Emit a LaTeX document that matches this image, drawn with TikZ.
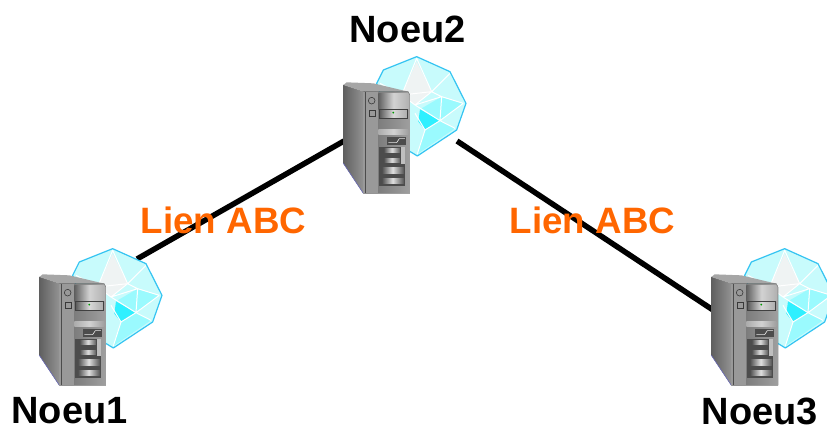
\documentclass[tikz,border=0pt]{standalone}
\usepackage{fontspec}
\setmainfont{Liberation Sans}
\definecolor{lienorange}{HTML}{FF6600}
\definecolor{gembase}{HTML}{C8FBFC}
\definecolor{gemmid}{HTML}{9AFAFE}
\definecolor{gemdeep}{HTML}{2FF0FF}
\definecolor{gemtop}{HTML}{EFF3F3}
\definecolor{gemedge}{HTML}{35C4F2}
\tikzset{
  x=1pt,y=-1pt,
  nodelabel/.style={font=\bfseries\fontsize{38}{38}\selectfont,text=black,inner sep=0pt},
  linklabel/.style={font=\bfseries\fontsize{36.7}{37}\selectfont,text=lienorange,inner sep=0pt},
  connector/.style={draw=black,line width=5.5pt},
  facet/.style={draw=white,line width=1pt,line join=round},
  slot/.style={left color=gray!55!black,right color=gray!65!black,middle color=gray!25,draw=black!70,line width=0.7pt},
  serverpc/.pic={
    \begin{scope}[x=0.3333pt,y=-0.3333pt]
      % gem
      \fill[gembase] (260,20)--(360,65)--(408,160)--(380,240)--(262,318)--(200,280)--(140,100)--(160,60)--cycle;
      \fill[gemtop] (260,35)--(305,125)--(255,165)--(215,135)--cycle;
      \fill[gemmid] (335,140)--(400,160)--(330,212)--(270,178)--cycle;
      \fill[gemdeep] (270,178)--(330,212)--(285,240)--(265,215)--cycle;
      \fill[gemmid] (285,240)--(330,212)--(375,235)--(262,312)--cycle;
      \draw[facet] (260,25)--(305,125)--(360,70) (260,25)--(215,135)--(150,100)
                   (215,135)--(305,125)--(335,140)--(400,160) (335,140)--(330,212)--(375,235)
                   (255,165)--(335,140) (255,165)--(330,212)--(285,240)--(262,312)
                   (285,240)--(255,190) (215,135)--(255,165) (305,125)--(255,165)
                   (400,160)--(330,212);
      \draw[gemedge,line width=1.2pt,line join=round] (260,20)--(360,65)--(408,160)--(380,240)--(262,318)--(200,280)--(140,100)--(160,60)--cycle;
      % server body
      \fill[left color=gray!75!black,right color=gray!85] (40,105)--(100,125)--(100,430)--(40,340)--cycle;
      \fill[gray!70] (40,105)--(50,97)--(130,100)--(235,125)--(100,125)--cycle;
      \fill[left color=gray!85!black,right color=gray!75] (100,125)--(235,125)--(240,135)--(240,430)--(100,430)--cycle;
      \draw[blue!40!gray!80,line width=0.6pt] (40,340)--(100,430);
      \fill[gray!80] (100,125) rectangle (145,430);
      \fill[gray!60!black] (105,125) rectangle (109,430);
      % upper panel
      \shade[left color=gray!75!black,right color=gray!60,middle color=gray!35] (145,132) rectangle (235,178);
      \draw[gray!45!black,line width=0.6pt] (125,152) circle (10);
      \draw[gray!45!black,line width=0.6pt] (118,182) rectangle (136,200);
      \shade[left color=gray!70!black,right color=gray!65,middle color=gray!30,draw=black!75,line width=1pt] (148,178) rectangle (232,205);
      \fill[green!60!black] (190,188) circle (3);
      % middle panel
      \shade[left color=gray!65,right color=gray!75,middle color=gray!35] (145,238) rectangle (235,254);
      \fill[gray!60!black] (170,260) rectangle (228,285);
      \draw[white!80!gray,line width=0.6pt] (175,278)--(200,278)--(208,266)--(225,266);
      % drive bays
      \fill[black!70] (148,290) rectangle (225,407);
      \shade[slot] (160,292) rectangle (212,310);
      \shade[slot] (160,322) rectangle (212,340);
      \shade[slot] (154,350) rectangle (222,373);
      \shade[slot] (154,382) rectangle (222,403);
      \fill[gray!50] (214,292) rectangle (224,342);
    \end{scope}
  }
}
\begin{document}
\begin{tikzpicture}
  \clip (0,0) rectangle (827,428);
  \fill[white] (0,0) rectangle (827,428);
  \coordinate (n1e) at (137,259);
  \coordinate (n2w) at (344,141);
  \coordinate (n2e) at (457,141);
  \coordinate (n3w) at (713,310);
  \draw[connector] (n1e) -- (n2w);
  \draw[connector] (n2e) -- (n3w);
  \pic at (26,242) {serverpc};
  \pic at (330,50) {serverpc};
  \pic at (698,242) {serverpc};
  \node[nodelabel] (n1) at (69.5,411) {Noeu1};
  \node[nodelabel] (n2) at (407.5,29) {Noeu2};
  \node[nodelabel] (n3) at (760,411) {Noeu3};
  \node[linklabel] (l1) at (223.5,220) {Lien ABC};
  \node[linklabel] (l2) at (592.5,220) {Lien ABC};
\end{tikzpicture}
\end{document}
